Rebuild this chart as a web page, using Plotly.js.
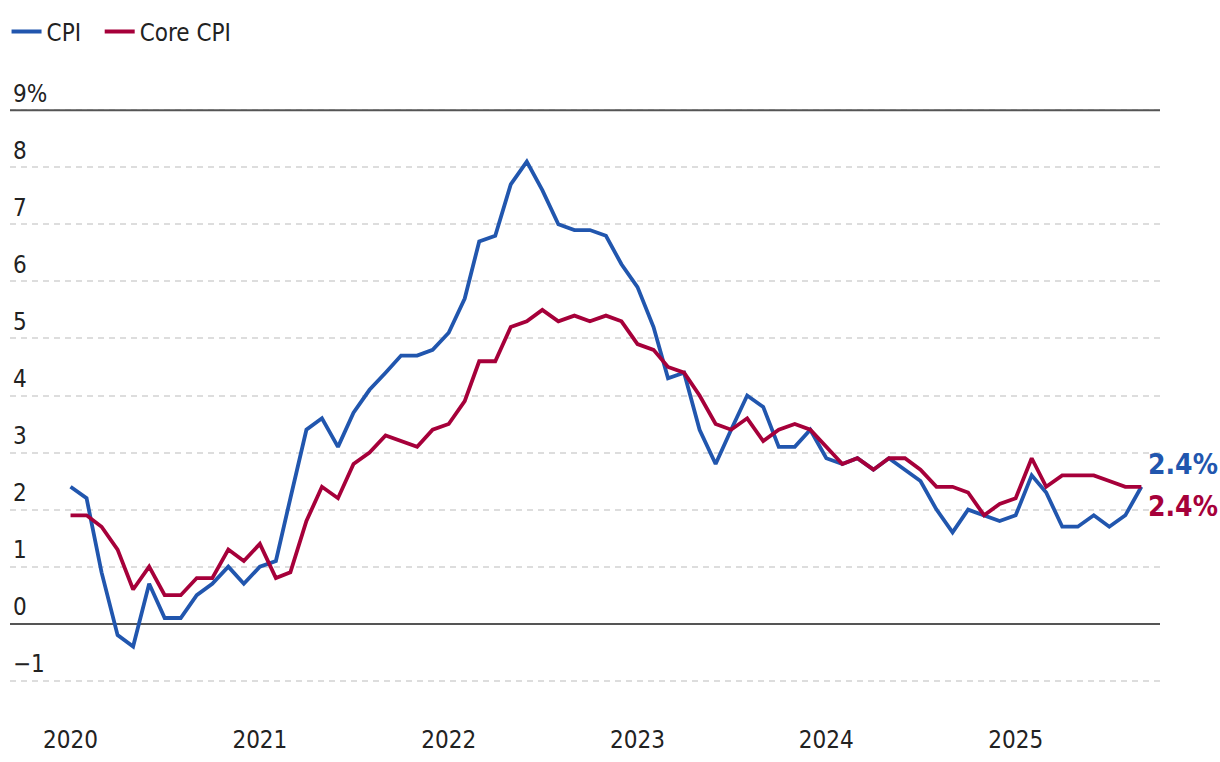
<!DOCTYPE html>
<html>
<head>
<meta charset="utf-8">
<script src="https://cdn.plot.ly/plotly-3.0.1.min.js"></script>
<style>
  html, body { margin: 0; padding: 0; background: #fff; }
  #chart { width: 1220px; height: 762px; }
  #chart text { font-stretch: condensed !important; }
</style>
</head>
<body>
<div id="chart"></div>
<script>
// Monthly data, Jan 2020 – Sep 2025
const startYear = 2020;
const cpi = [
  2.4, 2.2, 0.9, -0.2, -0.4, 0.7, 0.1, 0.1, 0.5, 0.7, 1.0, 0.7,
  1.0, 1.1, 2.2, 3.4, 3.6, 3.1, 3.7, 4.1, 4.4, 4.7, 4.7, 4.8,
  5.1, 5.7, 6.7, 6.8, 7.7, 8.1, 7.6, 7.0, 6.9, 6.9, 6.8, 6.3,
  5.9, 5.2, 4.3, 4.4, 3.4, 2.8, 3.4, 4.0, 3.8, 3.1, 3.1, 3.4,
  2.9, 2.8, 2.9, 2.7, 2.9, 2.7, 2.5, 2.0, 1.6, 2.0, 1.9, 1.8,
  1.9, 2.6, 2.3, 1.7, 1.7, 1.9, 1.7, 1.9, 2.4
];
const coreCpi = [
  1.9, 1.9, 1.7, 1.3, 0.6, 1.0, 0.5, 0.5, 0.8, 0.8, 1.3, 1.1,
  1.4, 0.8, 0.9, 1.8, 2.4, 2.2, 2.8, 3.0, 3.3, 3.2, 3.1, 3.4,
  3.5, 3.9, 4.6, 4.6, 5.2, 5.3, 5.5, 5.3, 5.4, 5.3, 5.4, 5.3,
  4.9, 4.8, 4.5, 4.4, 4.0, 3.5, 3.4, 3.6, 3.2, 3.4, 3.5, 3.4,
  3.1, 2.8, 2.9, 2.7, 2.9, 2.9, 2.7, 2.4, 2.4, 2.3, 1.9, 2.1,
  2.2, 2.9, 2.4, 2.6, 2.6, 2.6, 2.5, 2.4, 2.4
];
const seriesNames = ["CPI", "Core CPI"];
const yTickVals = [-1, 0, 1, 2, 3, 4, 5, 6, 7, 8, 9];
const yTickText = ["\u22121", "0", "1", "2", "3", "4", "5", "6", "7", "8", "9%"];
const yearTicks = ["2020", "2021", "2022", "2023", "2024", "2025"];

const BLUE = "#2156ae";
const RED = "#a6003a";
const FONT = "'Liberation Sans Narrow', 'DejaVu Sans Condensed', 'DejaVu Sans', sans-serif";

const dates = cpi.map((_, i) => {
  const y = startYear + Math.floor(i / 12);
  const m = (i % 12) + 1;
  return y + "-" + String(m).padStart(2, "0") + "-01";
});
const last = dates.length - 1;

const traces = [
  { x: dates, y: cpi, name: seriesNames[0], type: "scatter", mode: "lines",
    line: { color: BLUE, width: 3.8 }, legend: "legend" },
  { x: dates, y: coreCpi, name: seriesNames[1], type: "scatter", mode: "lines",
    line: { color: RED, width: 3.8 }, legend: "legend2" }
];

const legendFont = { family: FONT, size: 24, color: "#222" };

const layout = {
  width: 1220, height: 762,
  margin: { l: 10, r: 60, t: 76, b: 47, autoexpand: false },
  paper_bgcolor: "#fff", plot_bgcolor: "#fff",
  font: { family: FONT, size: 24, color: "#222" },
  showlegend: true,
  legend: { orientation: "h", x: -0.003, xanchor: "left", y: 1.069, yanchor: "middle",
            font: legendFont },
  legend2: { orientation: "h", x: 0.078, xanchor: "left", y: 1.069, yanchor: "middle",
             font: legendFont },
  xaxis: {
    type: "date",
    range: ["2019-09-06", "2025-10-07"],
    tickvals: yearTicks.map(y => y + "-01-01"),
    ticktext: yearTicks,
    showgrid: false, zeroline: false, showline: false,
    ticks: "", ticklabelstandoff: 8,
    tickfont: { family: FONT, size: 24, color: "#222" }
  },
  yaxis: {
    range: [-1.6, 9.6],
    tickvals: yTickVals, ticktext: yTickText,
    ticklabelposition: "inside top",
    showgrid: true, gridcolor: "#dddddd", griddash: "6px,5px", gridwidth: 2,
    zeroline: true, zerolinecolor: "#555", zerolinewidth: 1.8,
    showline: false, ticks: "",
    tickfont: { family: FONT, size: 24, color: "#222" }
  },
  shapes: [
    { type: "line", xref: "paper", x0: 0, x1: 1, yref: "y", y0: 9, y1: 9,
      line: { color: "#555", width: 1.8 } }
  ],
  annotations: [
    { x: dates[last], y: cpi[last], xref: "x", yref: "y", xanchor: "left", yanchor: "middle",
      xshift: 5, yshift: 22, showarrow: false,
      text: "<b>" + cpi[last].toFixed(1) + "%</b>",
      font: { family: FONT, size: 28, color: BLUE } },
    { x: dates[last], y: coreCpi[last], xref: "x", yref: "y", xanchor: "left", yanchor: "middle",
      xshift: 5, yshift: -20, showarrow: false,
      text: "<b>" + coreCpi[last].toFixed(1) + "%</b>",
      font: { family: FONT, size: 28, color: RED } }
  ]
};

Plotly.newPlot("chart", traces, layout, { displayModeBar: false, responsive: false });
</script>
</body>
</html>
